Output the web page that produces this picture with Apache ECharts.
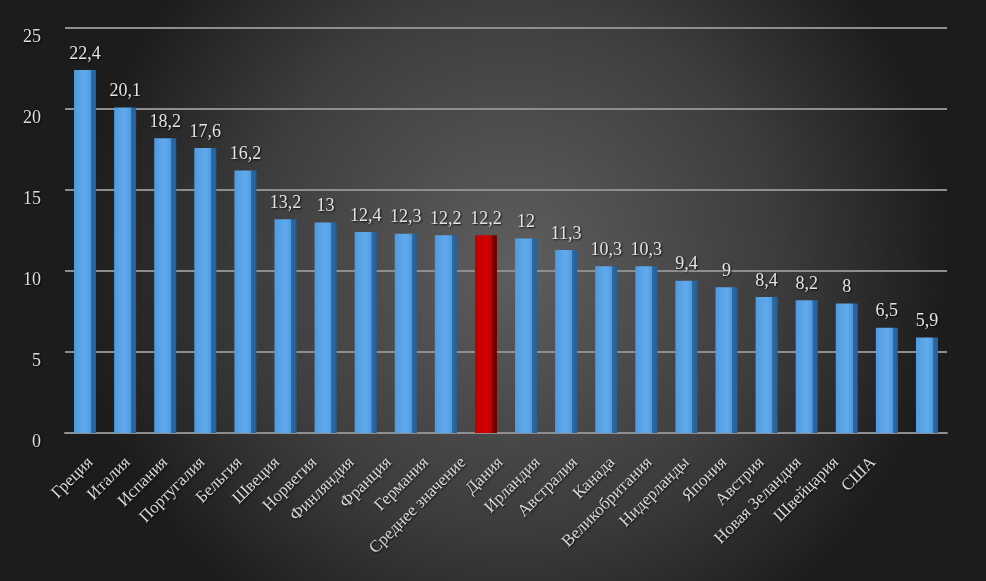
<!DOCTYPE html>
<html><head><meta charset="utf-8">
<script src="https://cdn.jsdelivr.net/npm/echarts@6/dist/echarts.min.js"></script>
<style>html,body{margin:0;padding:0;background:#2a2a2a}#c{width:986px;height:581px}</style>
</head><body><div id="c"></div>
<script>
const categories = ['Греция','Италия','Испания','Португалия','Бельгия','Швеция','Норвегия','Финляндия','Франция','Германия','Среднее значение','Дания','Ирландия','Австралия','Канада','Великобритания','Нидерланды','Япония','Австрия','Новая Зеландия','Швейцария','США'];
const values = [22.4,20.1,18.2,17.6,16.2,13.2,13,12.4,12.3,12.2,12.2,12,11.3,10.3,10.3,9.4,9,8.4,8.2,8,6.5,5.9];
const highlightCategory = 'Среднее значение';
const yTicks = [0,5,10,15,20,25];

const blueGrad = {type:'linear',x:0,y:0,x2:1,y2:0,colorStops:[
  {offset:0,color:'#4f9be0'},{offset:0.5,color:'#62aaec'},{offset:0.76,color:'#4f9be0'},
  {offset:0.77,color:'#2c6aa6'},{offset:1,color:'#275f95'}]};
const redGrad = {type:'linear',x:0,y:0,x2:1,y2:0,colorStops:[
  {offset:0,color:'#c00000'},{offset:0.5,color:'#d40000'},{offset:0.76,color:'#c00000'},
  {offset:0.77,color:'#7e0000'},{offset:1,color:'#6a0000'}]};
const shadow = {textShadowColor:'rgba(0,0,0,0.85)',textShadowBlur:2,textShadowOffsetX:1,textShadowOffsetY:1};

const chart = echarts.init(document.getElementById('c'));
chart.setOption({
  backgroundColor:{type:'radial',x:0.52,y:0.45,r:0.75,colorStops:[
    {offset:0,color:'#5e5e5e'},{offset:0.6,color:'#3d3d3d'},{offset:1,color:'#1c1c1c'}]},
  animation:false,
  grid:[{left:65,right:39,top:28,bottom:148},{left:72,right:94,top:28,bottom:148}],
  xAxis:[{type:'category',data:categories,gridIndex:0,
    axisLine:{show:true,lineStyle:{color:'#8e8e8e',width:2}},
    axisTick:{show:false},axisLabel:{show:false}},
   {type:'category',data:categories,gridIndex:1,
    axisLine:{show:false},axisTick:{show:false},
    axisLabel:Object.assign({interval:0,rotate:45,margin:27,color:'#d8d8d8',fontFamily:'Liberation Serif',fontSize:17},shadow)}],
  yAxis:[{type:'value',gridIndex:0,min:yTicks[0],max:yTicks[yTicks.length-1],interval:5,
    axisLine:{show:false},axisTick:{show:false},
    splitLine:{lineStyle:{color:'#8e8e8e',width:2}},
    axisLabel:Object.assign({margin:24,color:'#dcdcdc',fontFamily:'Liberation Serif',fontSize:18,verticalAlign:'top'},shadow)},
   {type:'value',gridIndex:1,min:0,max:25,show:false}],
  series:[{type:'bar',barWidth:22,xAxisIndex:0,yAxisIndex:0,
    data:values.map((v,i)=>({value:v,itemStyle:{color:categories[i]===highlightCategory?redGrad:blueGrad}})),
    label:Object.assign({show:true,position:'top',distance:7,color:'#e4e4e4',fontFamily:'Liberation Serif',fontSize:18,
      formatter:p=>String(p.value).replace('.',',')},shadow)
  }]
});
</script></body></html>
